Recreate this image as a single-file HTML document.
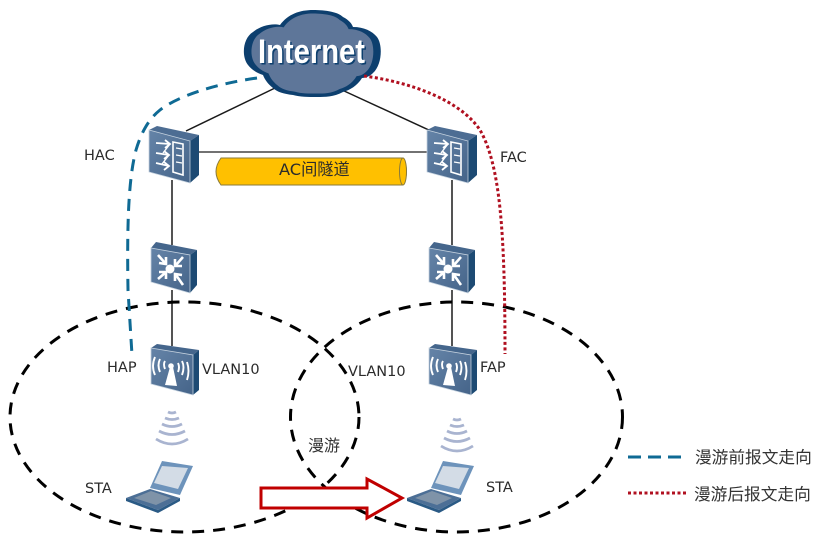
<!DOCTYPE html>
<html>
<head>
<meta charset="utf-8">
<style>
html,body{margin:0;padding:0;background:#fff;width:825px;height:544px;overflow:hidden}
svg{display:block}
text{font-family:"DejaVu Sans","Noto Sans CJK SC",sans-serif;fill:#2b2b2b;font-size:14.5px}
.cn{font-family:"Noto Sans CJK SC",sans-serif;font-size:16.7px;fill:#333}
.net{font-family:"Liberation Sans",sans-serif;font-size:34px;font-weight:bold}
</style>
</head>
<body>
<svg width="825" height="544" viewBox="0 0 825 544" xmlns="http://www.w3.org/2000/svg">
<defs>
<linearGradient id="f" x1="0" y1="0" x2="1" y2="1"><stop offset="0" stop-color="#6584a8"/><stop offset="1" stop-color="#456489"/></linearGradient>
<path id="cloudshape" d="M248 65 C241 56 243 38 253 32 C260 26 272 23 280 25 C288 14 300 10 313 10 C326 10 338 12 343 17 C349 20 352 24 353 27 C364 27 372 31 377 37 C383 45 382 65 373 73 C370 76 366 78 362 78 C357 86 350 90 343 92 C334 97 325 97 317 97 C308 97 300 97 293 95 C284 94 277 92 273 88 C268 84 265 80 263 75 C257 73 252 70 248 65 Z"/>
<g id="ac">
<path d="M-1 4 L7 0 L49 9 L40 15 Z" fill="#4d6d93"/>
<path d="M40 15 L49 9 L49 49 L40 57 Z" fill="#1d4a73"/>
<path d="M-1 4 L40 15 L40 57 L-1 46 Z" fill="url(#f)" stroke="#c5d2df" stroke-width=".8"/>
<path d="M23 16 L33 18 L33 49 L23 46 Z" fill="none" stroke="#fff" stroke-width="1.6"/>
<path d="M26 22 L32 23 M26 29 L32 30 M26 36 L32 37" fill="none" stroke="#fff" stroke-width="1.2"/>
<path d="M6 17 L20 18 M15 14 L20 18 L15 22 M6 27 L19 29 M14 25 L19 29 L14 33 M6 37 L19 40 M14 36 L19 40 L14 44" fill="none" stroke="#fff" stroke-width="1.8"/>
<path d="M20 18 L13 27 M19 29 L12 38" fill="none" stroke="#fff" stroke-width="1.4"/>
</g>
<g id="sw">
<path d="M0 7 L5 1 L46 9 L39 14 Z" fill="#45668c"/>
<path d="M39 14 L46 9 L46 44 L39 52 Z" fill="#1d4a73"/>
<path d="M0 7 L39 14 L39 52 L0 41 Z" fill="url(#f)" stroke="#c5d2df" stroke-width=".8"/>
<circle cx="19" cy="28" r="4.5" fill="#fff"/>
<path d="M7 14 L14 22 M15 16 L15 23 L8 22 M32 16 L25 24 M24 18 L24 25 L31 25 M7 38 L14 32 M8 31 L15 31 L15 38 M32 44 L25 34 M24 40 L24 33 L31 34" fill="none" stroke="#fff" stroke-width="2.6"/>
</g>
<g id="ap">
<path d="M0 4 L6 0 L48 6 L42 11 Z" fill="#45668c"/>
<path d="M42 11 L48 6 L48 46 L42 51 Z" fill="#1d4a73"/>
<path d="M0 4 L42 11 L42 51 L0 40 Z" fill="url(#f)" stroke="#c5d2df" stroke-width=".8"/>
<path d="M14 41 L19 23 L22 23 L26 42 Z" fill="#fff"/>
<circle cx="20" cy="22" r="2.8" fill="#fff"/>
<path d="M14 17 Q12 20 14 25 M27 19 Q29 23 27 28 M9 15 Q6 21 9 28 M31 17 Q34 23 31 31 M4 13 Q0 22 4 31 M36 18 Q39 27 36 36" fill="none" stroke="#fff" stroke-width="1.9"/>
</g>
<g id="wifi" fill="none" stroke="#a9b4d0" stroke-width="2.8">
<path d="M13 2 Q17 4 21 2"/>
<path d="M10 8 Q17 11 24 8"/>
<path d="M7 14 Q17 19 27 14"/>
<path d="M4 21 Q17 28 30 21"/>
<path d="M1 29 Q17 39 33 29"/>
</g>
<g id="pc">
<path d="M1 38 L25 29 L55 38 L33 50 Z" fill="#4c6f96"/>
<path d="M1 38 L33 50 L55 38 L55 41 L33 53 L1 41 Z" fill="#2a5a85"/>
<path d="M9 38 L26 31 L46 38 L31 45 Z" fill="#7f93a8"/>
<path d="M25 28 L37 1 L68 6 L55 35 Z" fill="#6d93bb"/>
<path d="M29 23 L37 6 L63 8 L53 29 Z" fill="#d3dce6"/>
</g>
</defs>

<!-- connection lines -->
<g stroke="#1a1a1a" stroke-width="1.5" fill="none">
<line x1="275" y1="88" x2="186" y2="131"/>
<line x1="342" y1="90" x2="431" y2="131"/>
<line x1="199" y1="152" x2="428" y2="152" stroke="#444"/>
<line x1="172" y1="180" x2="172" y2="245"/>
<line x1="172" y1="290" x2="172" y2="346"/>
<line x1="452" y1="180" x2="452" y2="245"/>
<line x1="452" y1="290" x2="452" y2="346"/>
</g>

<!-- ellipses -->
<ellipse cx="184.5" cy="417" rx="174.5" ry="115" fill="none" stroke="#000" stroke-width="3" stroke-dasharray="12 9"/>
<ellipse cx="456.5" cy="417" rx="166" ry="115" fill="none" stroke="#000" stroke-width="3" stroke-dasharray="12 9"/>

<!-- tunnel -->
<path d="M221 158 L403 158 Q410 171.500 403 185 L221 185 Q211 171.500 221 158 Z" fill="#ffc000" stroke="#8a7a3a" stroke-width="1"/>
<ellipse cx="403" cy="171.500" rx="3.500" ry="13.500" fill="#ffc000" stroke="#8a7a3a" stroke-width="1"/>
<text x="279" y="175" style="font-size:16.2px">AC间隧道</text>

<!-- cloud -->
<use href="#cloudshape" fill="#0d3f6e"/>
<use href="#cloudshape" fill="#5e7699" transform="translate(313 54) scale(.89 .92) translate(-313 -54)"/>
<text class="net" x="258" y="63" textLength="107" lengthAdjust="spacingAndGlyphs" style="font-size:34px;fill:#0d3f6e" dx="1.500" dy="1.500">Internet</text>
<text class="net" x="258" y="63" textLength="107" lengthAdjust="spacingAndGlyphs" style="font-size:34px;fill:#fff">Internet</text>

<!-- devices -->
<use href="#ac" x="150" y="126"/>
<use href="#ac" x="428" y="126"/>
<use href="#sw" x="151" y="241"/>
<use href="#sw" x="429" y="241"/>
<use href="#ap" x="151" y="344"/>
<use href="#ap" x="429" y="344"/>
<use href="#wifi" x="155" y="410"/>
<use href="#wifi" x="440" y="417"/>
<use href="#pc" x="125" y="460"/>
<use href="#pc" x="406" y="460"/>

<!-- flows -->
<path d="M257 78 C215 84 178 96 160 110 C150 118 142 130 136 150 C128 180 127 230 128 290 L132 355" fill="none" stroke="#0f6a94" stroke-width="3" stroke-dasharray="12 8"/>
<path d="M364 76 C410 82 460 100 480 130 C500 165 505 230 505 354" fill="none" stroke="#b01020" stroke-width="3" stroke-dasharray="3 2.500"/>

<!-- roam arrow -->
<path d="M261 488 L367 488 L367 479 L402 498 L367 518 L367 508 L261 508 Z" fill="#fff" stroke="#c00000" stroke-width="3"/>

<!-- labels -->
<text x="84" y="160">HAC</text>
<text x="500" y="162">FAC</text>
<text x="107" y="372">HAP</text>
<text x="202" y="374">VLAN10</text>
<text x="348" y="376">VLAN10</text>
<text x="480" y="372">FAP</text>
<text x="85" y="493">STA</text>
<text x="486" y="492">STA</text>
<text class="cn" x="308" y="451" style="font-size:16px">漫游</text>

<!-- legend -->
<line x1="628" y1="457" x2="681" y2="457" stroke="#0f6a94" stroke-width="3" stroke-dasharray="13 7"/>
<line x1="628" y1="493" x2="688" y2="493" stroke="#b01020" stroke-width="3" stroke-dasharray="3 2.500"/>
<text class="cn" x="695" y="463">漫游前报文走向</text>
<text class="cn" x="694" y="500">漫游后报文走向</text>
</svg>
</body>
</html>
